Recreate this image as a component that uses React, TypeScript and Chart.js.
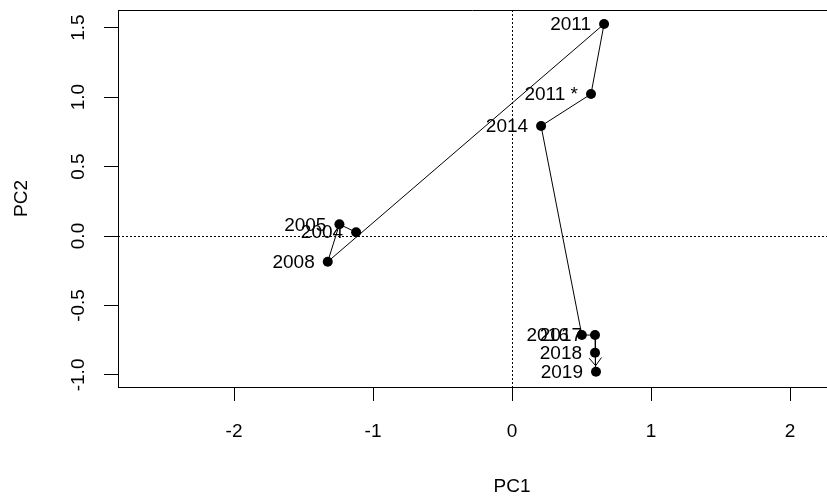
import React, { useEffect, useRef } from "react";
import { Chart, registerables } from "chart.js";

Chart.register(...registerables);

const years = ["2004", "2005", "2008", "2011", "2011 *", "2014", "2016", "2017", "2018", "2019"];
const pc1 = [-1.122, -1.242, -1.326, 0.662, 0.568, 0.209, 0.502, 0.597, 0.597, 0.604];
const pc2 = [0.027, 0.084, -0.185, 1.526, 1.022, 0.792, -0.713, -0.713, -0.84, -0.977];
const xTicks = [-2, -1, 0, 1, 2];
const yTicks = [-1, -0.5, 0, 0.5, 1, 1.5];
const xLabel = "PC1";
const yLabel = "PC2";

const FONT_FAMILY = "'Liberation Sans', Arial, Helvetica, sans-serif";
const FONT_SIZE = 19;

export default function App() {
  const ref = useRef<HTMLCanvasElement | null>(null);

  useEffect(() => {
    if (!ref.current) return;
    const points = pc1.map((x, i) => ({ x, y: pc2[i] }));

    const overlay = {
      id: "rstyle",
      beforeDatasetsDraw(chart: any) {
        const { ctx, chartArea, scales } = chart;
        const xs = scales.x;
        const ys = scales.y;
        ctx.save();
        ctx.strokeStyle = "#000";
        ctx.lineWidth = 1;
        ctx.setLineDash([2, 2]);
        const x0 = Math.round(xs.getPixelForValue(0)) + 0.5;
        const y0 = Math.round(ys.getPixelForValue(0)) + 0.5;
        ctx.beginPath();
        ctx.moveTo(x0, chartArea.top);
        ctx.lineTo(x0, chartArea.bottom);
        ctx.moveTo(chartArea.left, y0);
        ctx.lineTo(chartArea.right, y0);
        ctx.stroke();
        ctx.setLineDash([]);
        // top border
        ctx.beginPath();
        ctx.moveTo(chartArea.left, Math.round(chartArea.top) + 0.5);
        ctx.lineTo(chartArea.right, Math.round(chartArea.top) + 0.5);
        ctx.stroke();
        ctx.restore();
      },
      afterDatasetsDraw(chart: any) {
        const { ctx, chartArea, scales } = chart;
        const xs = scales.x;
        const ys = scales.y;
        ctx.save();
        ctx.fillStyle = "#000";
        ctx.strokeStyle = "#000";
        ctx.font = `${FONT_SIZE}px ${FONT_FAMILY}`;
        // point labels (left of point)
        ctx.textAlign = "right";
        ctx.textBaseline = "middle";
        years.forEach((t, i) => {
          const px = xs.getPixelForValue(pc1[i]);
          const py = ys.getPixelForValue(pc2[i]);
          ctx.fillText(t, px - 13, py + 1);
        });
        // arrow head on the last segment
        const n = pc1.length;
        const ax = xs.getPixelForValue(pc1[n - 2]);
        const ay = ys.getPixelForValue(pc2[n - 2]);
        const bx = xs.getPixelForValue(pc1[n - 1]);
        const by = ys.getPixelForValue(pc2[n - 1]);
        const len = Math.hypot(bx - ax, by - ay);
        const dx = (bx - ax) / len;
        const dy = (by - ay) / len;
        const tx = bx - dx * 6;
        const ty = by - dy * 6;
        const ang = (38 * Math.PI) / 180;
        const hl = 10;
        ctx.lineWidth = 1;
        ctx.beginPath();
        for (const s of [1, -1]) {
          const c = Math.cos(s * ang);
          const sn = Math.sin(s * ang);
          const rx = dx * c - dy * sn;
          const ry = dx * sn + dy * c;
          ctx.moveTo(tx, ty);
          ctx.lineTo(tx - rx * hl, ty - ry * hl);
        }
        ctx.stroke();
        // x tick labels
        ctx.textAlign = "center";
        ctx.textBaseline = "middle";
        xTicks.forEach((v) => {
          ctx.fillText(String(v), xs.getPixelForValue(v), 432);
        });
        // y tick labels (rotated, R style)
        yTicks.forEach((v) => {
          ctx.save();
          ctx.translate(79, ys.getPixelForValue(v));
          ctx.rotate(-Math.PI / 2);
          ctx.fillText(v.toFixed(1), 0, 0);
          ctx.restore();
        });
        // axis titles
        const cx = xs.getPixelForValue((xTicks[0] + xTicks[xTicks.length - 1]) / 2);
        ctx.fillText(xLabel, cx, 487);
        ctx.save();
        ctx.translate(22, (chartArea.top + chartArea.bottom) / 2);
        ctx.rotate(-Math.PI / 2);
        ctx.fillText(yLabel, 0, 0);
        ctx.restore();
        ctx.restore();
      },
    };

    const chart = new Chart(ref.current, {
      type: "scatter",
      data: {
        datasets: [
          {
            data: points,
            showLine: true,
            borderColor: "#000",
            borderWidth: 1,
            pointRadius: 5,
            pointBackgroundColor: "#000",
            pointBorderColor: "#000",
            pointBorderWidth: 0,
          } as any,
        ],
      },
      options: {
        responsive: false,
        animation: false,
        layout: { autoPadding: false, padding: { top: 10, left: 0, right: 0, bottom: 0 } },
        plugins: { legend: { display: false }, tooltip: { enabled: false } },
        scales: {
          x: {
            type: "linear",
            min: -2.835,
            max: 2.266,
            afterBuildTicks: (s: any) => {
              s.ticks = xTicks.map((v) => ({ value: v }));
            },
            afterFit: (s: any) => {
              s.height = 112;
            },
            grid: { drawOnChartArea: false, drawTicks: true, tickLength: 14, color: "#000", lineWidth: 1 },
            border: { display: true, color: "#000", width: 1 },
            ticks: { display: false },
          },
          y: {
            type: "linear",
            min: -1.087,
            max: 1.627,
            afterBuildTicks: (s: any) => {
              s.ticks = yTicks.map((v) => ({ value: v }));
            },
            afterFit: (s: any) => {
              s.width = 118;
            },
            grid: { drawOnChartArea: false, drawTicks: true, tickLength: 14, color: "#000", lineWidth: 1 },
            border: { display: true, color: "#000", width: 1 },
            ticks: { display: false },
          },
        },
      },
      plugins: [overlay],
    });
    return () => chart.destroy();
  }, []);

  return (
    <div style={{ position: "absolute", left: 0, top: 0, width: 827, height: 499, background: "#fff" }}>
      <canvas ref={ref} width={827} height={499} style={{ display: "block" }} />
    </div>
  );
}
